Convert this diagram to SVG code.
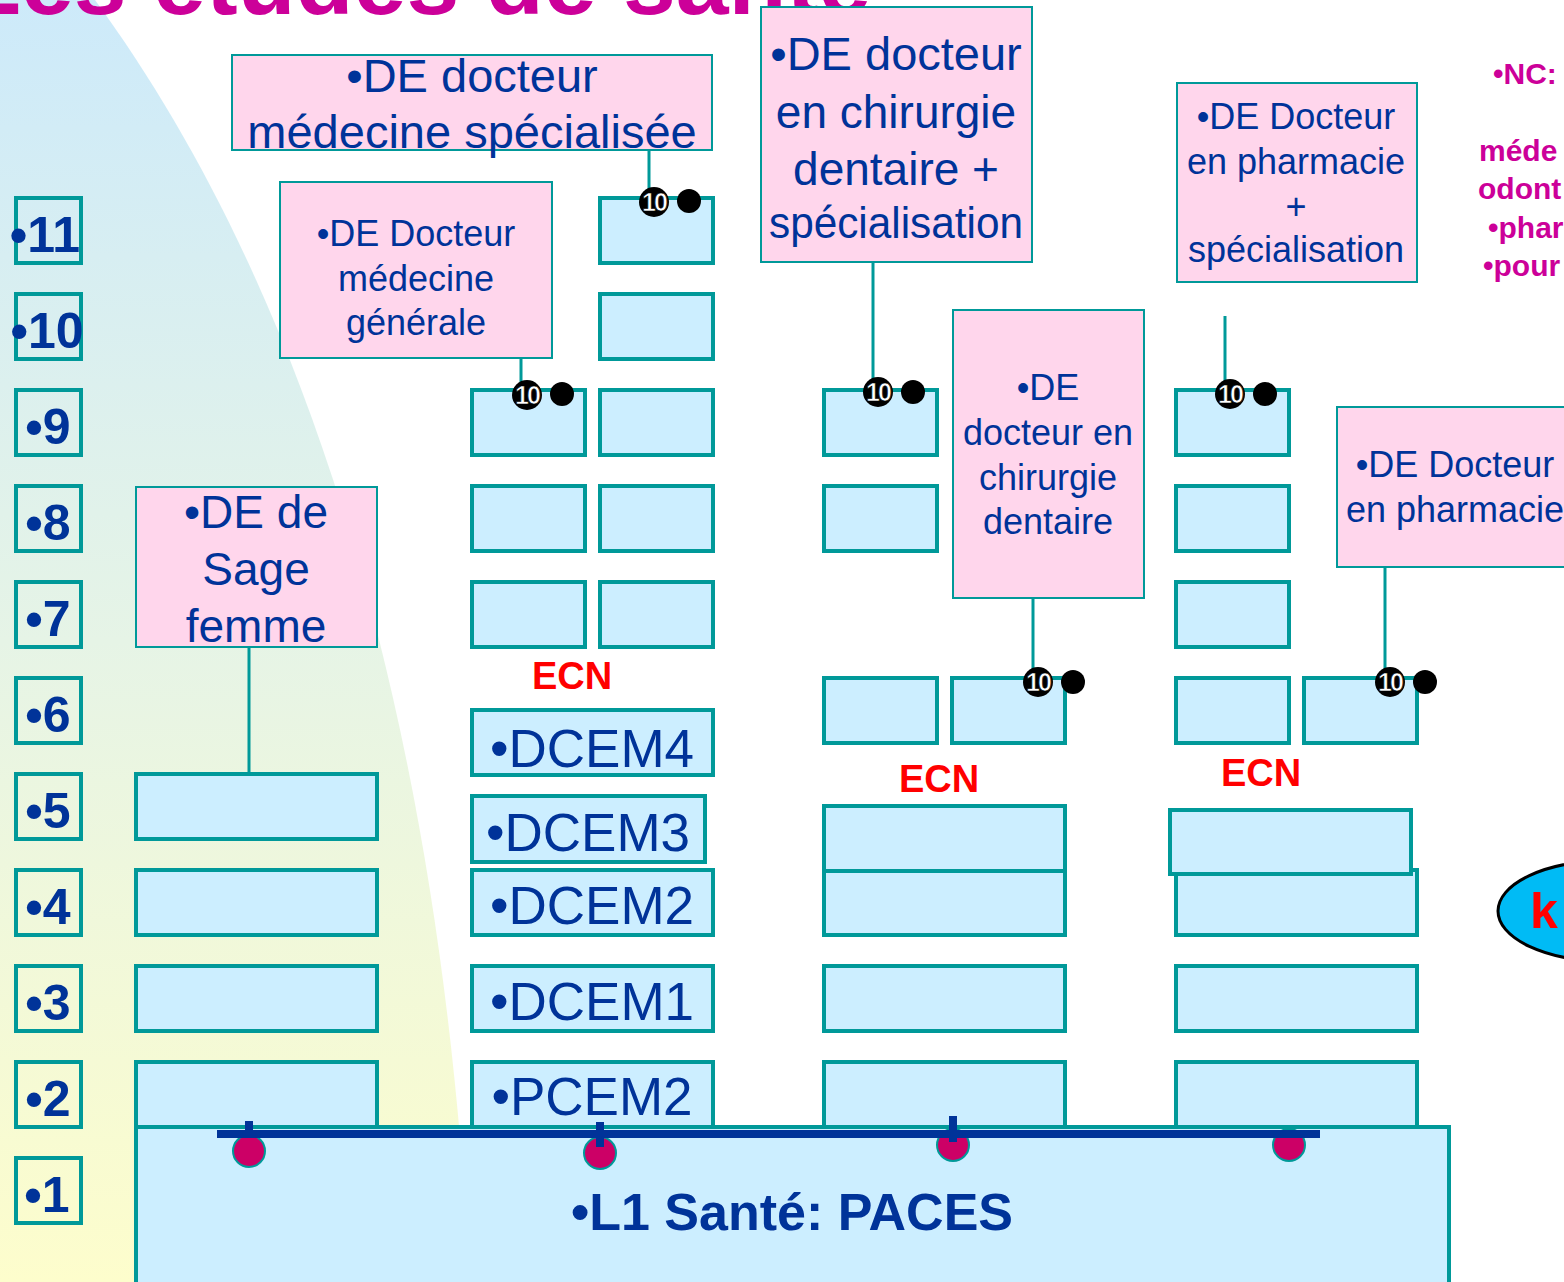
<svg xmlns="http://www.w3.org/2000/svg" width="1564" height="1282" viewBox="0 0 1564 1282">
<defs>
<linearGradient id="bg" x1="0" y1="0" x2="0" y2="1">
<stop offset="0" stop-color="#cdeafa"/>
<stop offset="0.5" stop-color="#e6f4e6"/>
<stop offset="1" stop-color="#fdfdcc"/>
</linearGradient>
<style>
.yr{fill:none;stroke:#009999;stroke-width:4}
.yt{font-family:"Liberation Sans",Arial,sans-serif;font-weight:bold;font-size:50px;fill:#003399;text-anchor:middle}
.bx{fill:#cceeff;stroke:#009999;stroke-width:4}
.pk{fill:#ffd6ec;stroke:#009999;stroke-width:2}
.pt{font-family:"Liberation Sans",Arial,sans-serif;fill:#003399;text-anchor:middle}
.dc{font-family:"Liberation Sans",Arial,sans-serif;font-size:53px;fill:#003399;text-anchor:middle}
.ecn{font-family:"Liberation Sans",Arial,sans-serif;font-weight:bold;font-size:38px;fill:#ff0000;text-anchor:middle}
.ln{stroke:#009999;stroke-width:3;fill:none}
.mk{fill:#000}
.mt{font-family:"Liberation Sans",Arial,sans-serif;font-weight:bold;font-size:25px;fill:#fff;stroke:#000;stroke-width:0.6;text-anchor:middle;letter-spacing:-2px}
.nc{font-family:"Liberation Sans",Arial,sans-serif;font-weight:bold;font-size:30px;fill:#cc0099}
.dot{fill:#cc0066;stroke:#009999;stroke-width:2}
</style>
</defs>
<rect width="1564" height="1282" fill="#fff"/>
<path d="M0 0 L95 0 C300 280 440 700 470 1282 L0 1282 Z" fill="url(#bg)"/>
<text x="-37" y="14" font-family="'Liberation Sans',Arial,sans-serif" font-weight="bold" font-size="95" fill="#cc0099">Les études de santé</text>

<g id="years">
<g id="y11"><rect class="yr" x="16" y="198" width="65" height="65"/><text class="yt" x="45" y="252">•11</text></g>
<g id="y10"><rect class="yr" x="16" y="294" width="65" height="65"/><text class="yt" x="47" y="348">•10</text></g>
<g id="y9"><rect class="yr" x="16" y="390" width="65" height="65"/><text class="yt" x="48" y="444">•9</text></g>
<g id="y8"><rect class="yr" x="16" y="486" width="65" height="65"/><text class="yt" x="48" y="540">•8</text></g>
<g id="y7"><rect class="yr" x="16" y="582" width="65" height="65"/><text class="yt" x="48" y="636">•7</text></g>
<g id="y6"><rect class="yr" x="16" y="678" width="65" height="65"/><text class="yt" x="48" y="732">•6</text></g>
<g id="y5"><rect class="yr" x="16" y="774" width="65" height="65"/><text class="yt" x="48" y="828">•5</text></g>
<g id="y4"><rect class="yr" x="16" y="870" width="65" height="65"/><text class="yt" x="48" y="924">•4</text></g>
<g id="y3"><rect class="yr" x="16" y="966" width="65" height="65"/><text class="yt" x="48" y="1020">•3</text></g>
<g id="y2"><rect class="yr" x="16" y="1062" width="65" height="65"/><text class="yt" x="48" y="1116">•2</text></g>
<g id="y1"><rect class="yr" x="16" y="1158" width="65" height="65"/><text class="yt" x="47" y="1212">•1</text></g>
</g>

<g id="paces"><rect class="bx" x="136" y="1127" width="1313" height="170"/><text x="792" y="1230" font-family="'Liberation Sans',Arial,sans-serif" font-weight="bold" font-size="52" fill="#003399" text-anchor="middle">•L1 Santé: PACES</text></g>

<g id="colA">
<rect class="bx" x="136" y="1062" width="241" height="65"/>
<rect class="bx" x="136" y="966" width="241" height="65"/>
<rect class="bx" x="136" y="870" width="241" height="65"/>
<rect class="bx" x="136" y="774" width="241" height="65"/>
</g>
<g id="sage"><rect class="pk" x="136" y="487" width="241" height="160"/>
<text class="pt" font-size="46" x="256" y="528">•DE de</text>
<text class="pt" font-size="46" x="256" y="585">Sage</text>
<text class="pt" font-size="46" x="256" y="642">femme</text></g>

<g id="colB">
<g id="pcem2"><rect class="bx" x="472" y="1062" width="241" height="65"/><text class="dc" x="592" y="1115">•PCEM2</text></g>
<g id="dcem1"><rect class="bx" x="472" y="966" width="241" height="65"/><text class="dc" x="592" y="1020">•DCEM1</text></g>
<g id="dcem2"><rect class="bx" x="472" y="870" width="241" height="65"/><text class="dc" x="592" y="924">•DCEM2</text></g>
<g id="dcem3"><rect class="bx" x="472" y="796" width="233" height="66"/><text class="dc" x="588" y="851">•DCEM3</text></g>
<g id="dcem4"><rect class="bx" x="472" y="710" width="241" height="65"/><text class="dc" x="592" y="767">•DCEM4</text></g>
<text class="ecn" x="572" y="689">ECN</text>
<rect class="bx" x="472" y="582" width="113" height="65"/>
<rect class="bx" x="600" y="582" width="113" height="65"/>
<rect class="bx" x="472" y="486" width="113" height="65"/>
<rect class="bx" x="600" y="486" width="113" height="65"/>
<rect class="bx" x="472" y="390" width="113" height="65"/>
<rect class="bx" x="600" y="390" width="113" height="65"/>
<rect class="bx" x="600" y="294" width="113" height="65"/>
<rect class="bx" x="600" y="198" width="113" height="65"/>
</g>

<g id="colC">
<rect class="bx" x="824" y="1062" width="241" height="65"/>
<rect class="bx" x="824" y="966" width="241" height="65"/>
<rect class="bx" x="824" y="871" width="241" height="64"/>
<rect class="bx" x="824" y="806" width="241" height="65"/>
<text class="ecn" x="939" y="792">ECN</text>
<rect class="bx" x="824" y="678" width="113" height="65"/>
<rect class="bx" x="952" y="678" width="113" height="65"/>
<rect class="bx" x="824" y="486" width="113" height="65"/>
<rect class="bx" x="824" y="390" width="113" height="65"/>
</g>

<g id="colD">
<rect class="bx" x="1176" y="1062" width="241" height="65"/>
<rect class="bx" x="1176" y="966" width="241" height="65"/>
<rect class="bx" x="1176" y="870" width="241" height="65"/>
<rect class="bx" x="1170" y="810" width="241" height="64"/>
<text class="ecn" x="1261" y="786">ECN</text>
<rect class="bx" x="1176" y="678" width="113" height="65"/>
<rect class="bx" x="1304" y="678" width="113" height="65"/>
<rect class="bx" x="1176" y="582" width="113" height="65"/>
<rect class="bx" x="1176" y="486" width="113" height="65"/>
<rect class="bx" x="1176" y="390" width="113" height="65"/>
</g>

<g id="medspe"><rect class="pk" x="232" y="55" width="480" height="95"/>
<text class="pt" font-size="47" x="472" y="92">•DE docteur</text>
<text class="pt" font-size="47" x="472" y="148">médecine spécialisée</text></g>

<g id="medgen"><rect class="pk" x="280" y="182" width="272" height="176"/>
<text class="pt" font-size="36" x="416" y="246">•DE Docteur</text>
<text class="pt" font-size="36" x="416" y="291">médecine</text>
<text class="pt" font-size="36" x="416" y="335">générale</text></g>

<g id="dentspe"><rect class="pk" x="761" y="7" width="271" height="255"/>
<text class="pt" font-size="47" x="896" y="70">•DE docteur</text>
<text class="pt" font-size="46" x="896" y="128">en chirurgie</text>
<text class="pt" font-size="46" x="896" y="185">dentaire +</text>
<text class="pt" font-size="44" x="896" y="238" textLength="254" lengthAdjust="spacingAndGlyphs">spécialisation</text></g>

<g id="dent"><rect class="pk" x="953" y="310" width="191" height="288"/>
<text class="pt" font-size="36" x="1048" y="400">•DE</text>
<text class="pt" font-size="36" x="1048" y="445">docteur en</text>
<text class="pt" font-size="36" x="1048" y="490">chirurgie</text>
<text class="pt" font-size="36" x="1048" y="534">dentaire</text></g>

<g id="pharmspe"><rect class="pk" x="1177" y="83" width="240" height="199"/>
<text class="pt" font-size="36" x="1296" y="129">•DE Docteur</text>
<text class="pt" font-size="36" x="1296" y="174">en pharmacie</text>
<text class="pt" font-size="36" x="1296" y="219">+</text>
<text class="pt" font-size="36" x="1296" y="262">spécialisation</text></g>

<g id="pharm"><rect class="pk" x="1337" y="407" width="240" height="160"/>
<text class="pt" font-size="36" x="1455" y="477">•DE Docteur</text>
<text class="pt" font-size="36" x="1455" y="522">en pharmacie</text></g>

<g id="nc">
<text class="nc" x="1493" y="84">•NC:</text>
<text class="nc" x="1479" y="161">méde</text>
<text class="nc" x="1478" y="199">odont</text>
<text class="nc" x="1488" y="238">•phar</text>
<text class="nc" x="1483" y="276">•pour</text>
</g>

<g id="kine"><ellipse cx="1605" cy="911" rx="107" ry="50" fill="#00bbf5" stroke="#000" stroke-width="3"/>
<text x="1530" y="928" font-family="'Liberation Sans',Arial,sans-serif" font-weight="bold" font-size="50" fill="#ff0000">k</text></g>

<g id="connectors">
<line class="ln" x1="249" y1="647" x2="249" y2="776"/>
<line class="ln" x1="649" y1="150" x2="649" y2="202"/>
<line class="ln" x1="521" y1="358" x2="521" y2="395"/>
<line class="ln" x1="873" y1="262" x2="873" y2="392"/>
<line class="ln" x1="1225" y1="316" x2="1225" y2="394"/>
<line class="ln" x1="1033" y1="598" x2="1033" y2="682"/>
<line class="ln" x1="1385" y1="567" x2="1385" y2="682"/>
</g>

<g id="markers">
<g><circle class="mk" cx="654" cy="202" r="15"/><text class="mt" x="654" y="211">10</text><circle class="mk" cx="689" cy="201" r="12"/></g>
<g><circle class="mk" cx="527" cy="395" r="15"/><text class="mt" x="527" y="404">10</text><circle class="mk" cx="562" cy="394" r="12"/></g>
<g><circle class="mk" cx="878" cy="392" r="15"/><text class="mt" x="878" y="401">10</text><circle class="mk" cx="913" cy="392" r="12"/></g>
<g><circle class="mk" cx="1230" cy="394" r="15"/><text class="mt" x="1230" y="403">10</text><circle class="mk" cx="1265" cy="394" r="12"/></g>
<g><circle class="mk" cx="1038" cy="682" r="15"/><text class="mt" x="1038" y="691">10</text><circle class="mk" cx="1073" cy="682" r="12"/></g>
<g><circle class="mk" cx="1390" cy="682" r="15"/><text class="mt" x="1390" y="691">10</text><circle class="mk" cx="1425" cy="682" r="12"/></g>
</g>

<g id="timeline">
<circle class="dot" cx="249" cy="1151" r="16"/>
<circle class="dot" cx="600" cy="1153" r="16"/>
<circle class="dot" cx="953" cy="1145" r="16"/>
<circle class="dot" cx="1289" cy="1145" r="16"/>
<line x1="217" y1="1134" x2="1320" y2="1134" stroke="#003399" stroke-width="8"/>
<line x1="249" y1="1121" x2="249" y2="1134" stroke="#003399" stroke-width="8"/>
<line x1="600" y1="1122" x2="600" y2="1147" stroke="#003399" stroke-width="8"/>
<line x1="953" y1="1116" x2="953" y2="1142" stroke="#003399" stroke-width="8"/>
</g>
</svg>
